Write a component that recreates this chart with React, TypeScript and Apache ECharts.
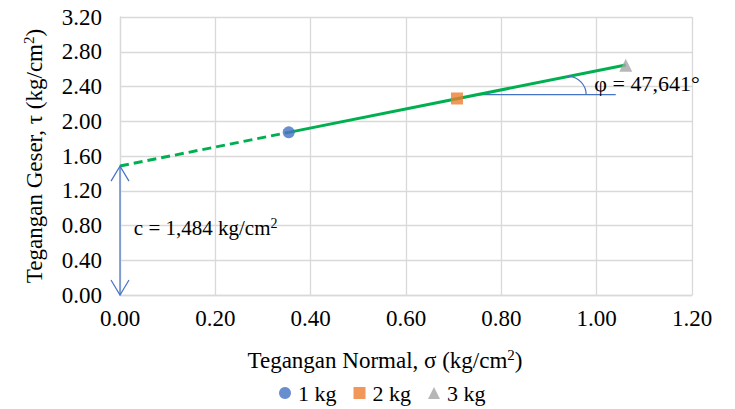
import React, { useEffect, useRef } from "react";
import * as echarts from "echarts";

// Data
const loadNames = ["1 kg", "2 kg", "3 kg"];
const sigma = [0.354, 0.707, 1.061]; // normal stress (kg/cm2)
const tau = [1.872, 2.262, 2.646]; // shear stress (kg/cm2)
const cohesion = 1.484; // kg/cm2
const phiDeg = 47.641; // degrees
const markerSymbols = ["circle", "rect", "triangle"];
const markerColors = ["#4472C4", "#ED7D31", "#A5A5A5"];

const xMin = 0, xMax = 1.2, xInterval = 0.2;
const yMin = 0, yMax = 3.2, yInterval = 0.4;

const FONT = "'Liberation Serif', 'Times New Roman', serif";

export default function App() {
  const ref = useRef<HTMLDivElement>(null);
  useEffect(() => {
    document.body.style.margin = "0";
    if (!ref.current) return;
    const chart = echarts.init(ref.current, null, { renderer: "svg" });
    const slope = Math.tan((phiDeg * Math.PI) / 180);
    const fit = (s: number) => cohesion + slope * s;
    const hStart = 0.75, hEnd = 1.04;
    const hTau = fit(hStart);

    const scatterSeries = loadNames.map((n, i) => ({
      name: n,
      type: "scatter",
      symbol: markerSymbols[i],
      symbolSize: i === 2 ? 13 : 12,
      itemStyle: { color: markerColors[i] },
      data: [[sigma[i], tau[i]]],
      z: 5,
    }));

    const nameRich = {
      sup: { fontFamily: FONT, fontSize: 15, color: "#000", verticalAlign: "top", lineHeight: 26 },
    };

    chart.setOption({
      animation: false,
      textStyle: { fontFamily: FONT },
      grid: { left: 120, top: 17, width: 572, height: 278, containLabel: false },
      xAxis: {
        type: "value",
        min: xMin,
        max: xMax,
        interval: xInterval,
        name: "Tegangan Normal, σ (kg/cm{sup|2})",
        nameLocation: "middle",
        nameGap: 52,
        nameTextStyle: {
          fontFamily: FONT,
          fontSize: 23,
          color: "#000",
          lineHeight: 26,
          padding: [0, 42, 0, 0],
          rich: nameRich,
        },
        axisLine: { show: true, lineStyle: { color: "#D9D9D9", width: 1.3 } },
        axisTick: { show: false },
        axisLabel: {
          fontFamily: FONT,
          fontSize: 23,
          color: "#000",
          margin: 12,
          formatter: (v: number) => v.toFixed(2),
        },
        splitLine: { show: true, lineStyle: { color: "#D9D9D9", width: 1.3 } },
      },
      yAxis: {
        type: "value",
        min: yMin,
        max: yMax,
        interval: yInterval,
        name: "Tegangan Geser, τ (kg/cm{sup|2})",
        nameLocation: "middle",
        nameGap: 73,
        nameTextStyle: { fontFamily: FONT, fontSize: 23, color: "#000", lineHeight: 26, rich: nameRich },
        axisLine: { show: true, lineStyle: { color: "#D9D9D9", width: 1.3 } },
        axisTick: { show: false },
        axisLabel: {
          fontFamily: FONT,
          fontSize: 23,
          color: "#000",
          margin: 18,
          formatter: (v: number) => v.toFixed(2),
        },
        splitLine: { show: true, lineStyle: { color: "#D9D9D9", width: 1.3 } },
      },
      legend: {
        data: loadNames,
        left: 279,
        top: 382,
        padding: 0,
        itemWidth: 12,
        itemHeight: 12,
        itemGap: 17,
        textStyle: { fontFamily: FONT, fontSize: 22, color: "#000", padding: [0, 0, 0, 2] },
      },
      series: [
        {
          type: "line",
          data: [[0, fit(0)], [sigma[0], fit(sigma[0])]],
          showSymbol: false,
          symbol: "none",
          lineStyle: { color: "#00B050", width: 3, type: [9, 5] },
          z: 2,
        },
        {
          type: "line",
          data: [[sigma[0], fit(sigma[0])], [sigma[2], fit(sigma[2])]],
          showSymbol: false,
          symbol: "none",
          lineStyle: { color: "#00B050", width: 3 },
          z: 2,
        },
        {
          type: "line",
          data: [[hStart, hTau], [hEnd, hTau]],
          showSymbol: false,
          symbol: "none",
          lineStyle: { color: "#4472C4", width: 1.2 },
          z: 1,
        },
        ...scatterSeries,
      ],
    });

    const px = (s: number, t: number) => chart.convertToPixel({ gridIndex: 0 }, [s, t]) as number[];
    const top = px(0, cohesion);
    const bot = px(0, 0);
    const arcCenterS = 0.94;
    const ac = px(arcCenterS, hTau);
    const onLine = px(arcCenterS, fit(arcCenterS));
    const r = ac[1] - onLine[1];
    const cPos = px(0.029, 0.77);
    const phiPos = px(0.995, 2.44);
    const blue = "#4472C4";

    chart.setOption({
      graphic: [
        {
          type: "line",
          shape: { x1: top[0], y1: top[1], x2: bot[0], y2: bot[1] },
          style: { stroke: blue, lineWidth: 1.2 },
          z: 10,
        },
        {
          type: "polyline",
          shape: { points: [[top[0] - 9, top[1] + 15], [top[0], top[1]], [top[0] + 9, top[1] + 15]] },
          style: { stroke: blue, lineWidth: 1.2, fill: "none" },
          z: 10,
        },
        {
          type: "polyline",
          shape: { points: [[bot[0] - 9, bot[1] - 15], [bot[0], bot[1]], [bot[0] + 9, bot[1] - 15]] },
          style: { stroke: blue, lineWidth: 1.2, fill: "none" },
          z: 10,
        },
        {
          type: "arc",
          shape: { cx: ac[0], cy: ac[1], r: r, startAngle: -Math.PI / 2, endAngle: 0, clockwise: true },
          style: { stroke: blue, lineWidth: 1.2, fill: "none" },
          z: 10,
        },
        {
          type: "text",
          x: cPos[0],
          y: cPos[1],
          style: {
            text: "c = 1,484 kg/cm{sup|2}",
            font: `21px ${FONT}`,
            fill: "#000",
            verticalAlign: "middle",
            rich: { sup: { font: `14px ${FONT}`, fill: "#000", verticalAlign: "top", lineHeight: 24 } },
            lineHeight: 24,
          },
          z: 10,
        },
        {
          type: "text",
          x: phiPos[0],
          y: phiPos[1],
          style: {
            text: "φ = 47,641°",
            font: `22px ${FONT}`,
            fill: "#000",
            verticalAlign: "middle",
          },
          z: 10,
        },
      ],
    });

    return () => chart.dispose();
  }, []);
  return <div ref={ref} style={{ width: 735, height: 409 }} />;
}
